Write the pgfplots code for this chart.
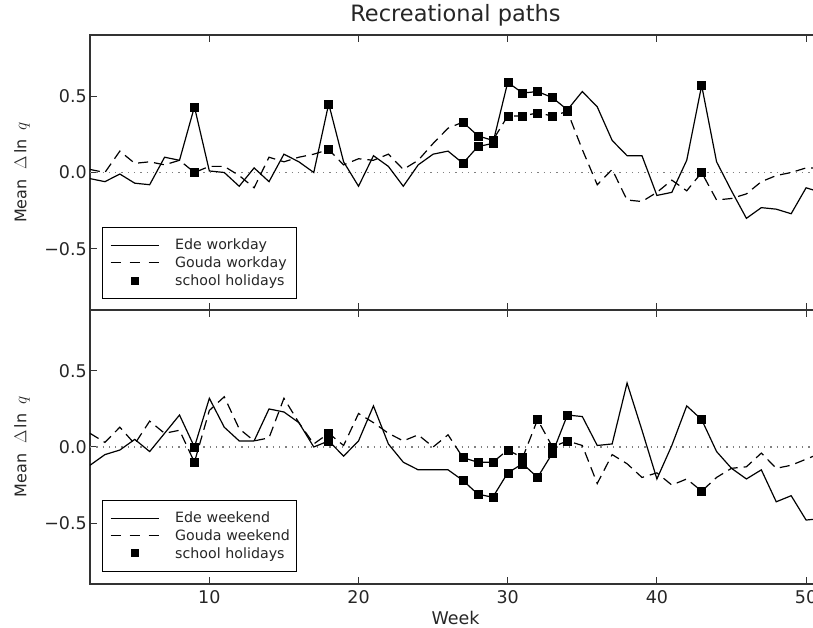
\documentclass[border=0pt]{standalone}
\usepackage{fontspec}
\setmainfont{DejaVu Sans}
\usepackage{pgfplots}
\usepackage{pgfplotstable}
\pgfplotsset{compat=1.18}

% week, Ede, Gouda (workdays)
\pgfplotstableread{
w ede gouda
2 -0.04 0.02
3 -0.06 0.00
4 -0.01 0.14
5 -0.07 0.06
6 -0.08 0.07
7 0.10 0.05
8 0.08 0.08
9 0.43 0.00
10 0.01 0.04
11 0.00 0.04
12 -0.09 -0.02
13 0.03 -0.10
14 -0.06 0.10
15 0.12 0.07
16 0.07 0.10
17 0.00 0.12
18 0.45 0.15
19 0.07 0.05
20 -0.09 0.09
21 0.11 0.08
22 0.04 0.12
23 -0.09 0.02
24 0.05 0.08
25 0.12 0.19
26 0.14 0.29
27 0.06 0.33
28 0.17 0.24
29 0.19 0.21
30 0.59 0.37
31 0.52 0.37
32 0.53 0.39
33 0.49 0.37
34 0.41 0.40
35 0.53 0.15
36 0.43 -0.08
37 0.21 0.02
38 0.11 -0.18
39 0.11 -0.19
40 -0.15 -0.13
41 -0.13 -0.05
42 0.08 -0.12
43 0.57 0.00
44 0.07 -0.18
45 -0.12 -0.17
46 -0.30 -0.14
47 -0.23 -0.06
48 -0.24 -0.02
49 -0.27 0.00
50 -0.10 0.03
51 -0.13 0.03
}\workday

\pgfplotstableread{
w ede gouda
9 0.43 0.00
18 0.45 0.15
27 0.06 0.33
28 0.17 0.24
29 0.19 0.21
30 0.59 0.37
31 0.52 0.37
32 0.53 0.39
33 0.49 0.37
34 0.41 0.40
43 0.57 0.00
}\workhol

% weekends
\pgfplotstableread{
w ede gouda
2 -0.12 0.09
3 -0.05 0.03
4 -0.02 0.13
5 0.05 0.02
6 -0.03 0.17
7 0.09 0.09
8 0.21 0.11
9 0.00 -0.10
10 0.32 0.24
11 0.13 0.33
12 0.04 0.12
13 0.04 0.04
14 0.25 0.06
15 0.23 0.32
16 0.16 0.16
17 0.00 0.02
18 0.04 0.09
19 -0.06 0.01
20 0.04 0.22
21 0.27 0.16
22 0.02 0.09
23 -0.10 0.04
24 -0.15 0.08
25 -0.15 0.00
26 -0.15 0.08
27 -0.22 -0.07
28 -0.31 -0.10
29 -0.33 -0.10
30 -0.17 -0.02
31 -0.11 -0.07
32 -0.20 0.18
33 -0.04 0.00
34 0.21 0.04
35 0.20 0.01
36 0.01 -0.24
37 0.02 -0.05
38 0.42 -0.11
39 0.11 -0.20
40 -0.21 -0.17
41 0.01 -0.25
42 0.27 -0.21
43 0.18 -0.29
44 -0.03 -0.20
45 -0.14 -0.14
46 -0.21 -0.13
47 -0.15 -0.04
48 -0.36 -0.14
49 -0.32 -0.12
50 -0.48 -0.08
51 -0.47 -0.04
}\weekend

\pgfplotstableread{
w ede gouda
9 0.00 -0.10
18 0.04 0.09
27 -0.22 -0.07
28 -0.31 -0.10
29 -0.33 -0.10
30 -0.17 -0.02
31 -0.11 -0.07
32 -0.20 0.18
33 -0.04 0.00
34 0.21 0.04
43 0.18 -0.29
}\weekhol

\pgfplotsset{
  panel/.style={
    scale only axis, width=731pt,
    xmin=2, xmax=51, ymin=-0.9, ymax=0.9,
    axis line style={black!80, line width=1.3pt},
    tick align=inside, major tick length=7pt,
    every tick/.style={black!80, line width=1pt},
    xtick={10,20,30,40,50},
    ytick={-0.5,0,0.5}, yticklabels={−0.5,0.0,0.5},
    /pgf/number format/assume math mode=true,
    tick label style={font=\fontsize{17.5}{21}\selectfont, text=black!85},
    xticklabel style={inner sep=6pt},
    yticklabel style={inner sep=3pt},
    ylabel={Mean\hspace{10pt}$\Delta$\hspace{2pt}ln\hspace{9pt}$q$},
    ylabel style={at={(axis description cs:-0.093,0.5)}, anchor=center,
      font=\fontsize{16}{19}\selectfont, text=black!85},
    legend cell align=left,
    legend style={anchor=south west, draw=black, line width=1.2pt,
      font=\fontsize{14.2}{17}\selectfont, inner xsep=5pt, inner ysep=9pt,
      nodes={inner xsep=1.6pt, inner ysep=2.7pt, text width=115pt, text=black!85}},
  },
  ser/.style={black, line width=1.2pt,
    legend image code/.code={\path[draw=none] (0pt,-4pt) rectangle (66pt,4pt);
      \draw[black, solid, line width=1.2pt] (3pt,0pt) -- (51pt,0pt);}},
  dsh/.style={black, line width=1.2pt, dash pattern=on 10pt off 6pt,
    legend image code/.code={\path[draw=none] (0pt,-4pt) rectangle (66pt,4pt);
      \draw[black, line width=1.2pt, dash pattern=on 10pt off 9pt] (3pt,0pt) -- (51pt,0pt);}},
  hol/.style={draw=none, mark=square*, mark size=4pt, mark options={black, solid},
    legend image code/.code={\path[draw=none] (0pt,-4pt) rectangle (66pt,4pt);
      \fill[black] (23pt,-4pt) rectangle (31pt,4pt);}},
  zero/.style={gray, line width=1.3pt, dash pattern=on 1.3pt off 5pt, forget plot},
}

\begin{document}
\begin{tikzpicture}
\begin{axis}[panel, at={(0pt,274pt)}, anchor=south west, height=275pt,
  xticklabels={},
  title={Recreational paths},
  title style={at={(axis description cs:0.5,1)}, anchor=base, yshift=8pt,
    inner sep=0pt, font=\fontsize{22.5}{27}\selectfont, text=black!85},
  legend style={at={(axis description cs:0.0164,0.04)}}]
\addplot[zero] coordinates {(2,0) (51,0)};
\addplot[ser] table[x=w, y=ede] {\workday};
\addlegendentry{Ede workday}
\addplot[dsh] table[x=w, y=gouda] {\workday};
\addlegendentry{Gouda workday}
\addplot[hol] table[x=w, y=ede] {\workhol};
\addlegendentry{school holidays}
\addplot[hol, forget plot] table[x=w, y=gouda] {\workhol};
\end{axis}

\begin{axis}[panel, at={(0pt,0pt)}, anchor=south west, height=274pt,
  xlabel={Week},
  xlabel style={at={(axis description cs:0.5,0)}, anchor=base, yshift=-41pt,
    inner sep=0pt, font=\fontsize{17.5}{21}\selectfont, text=black!85},
  legend style={at={(axis description cs:0.0164,0.044)}}]
\addplot[zero] coordinates {(2,0) (51,0)};
\addplot[ser] table[x=w, y=ede] {\weekend};
\addlegendentry{Ede weekend}
\addplot[dsh] table[x=w, y=gouda] {\weekend};
\addlegendentry{Gouda weekend}
\addplot[hol] table[x=w, y=ede] {\weekhol};
\addlegendentry{school holidays}
\addplot[hol, forget plot] table[x=w, y=gouda] {\weekhol};
\end{axis}

\pgfresetboundingbox
\path[use as bounding box] (-90pt,-44pt) rectangle (723pt,584pt);
\end{tikzpicture}
\end{document}
